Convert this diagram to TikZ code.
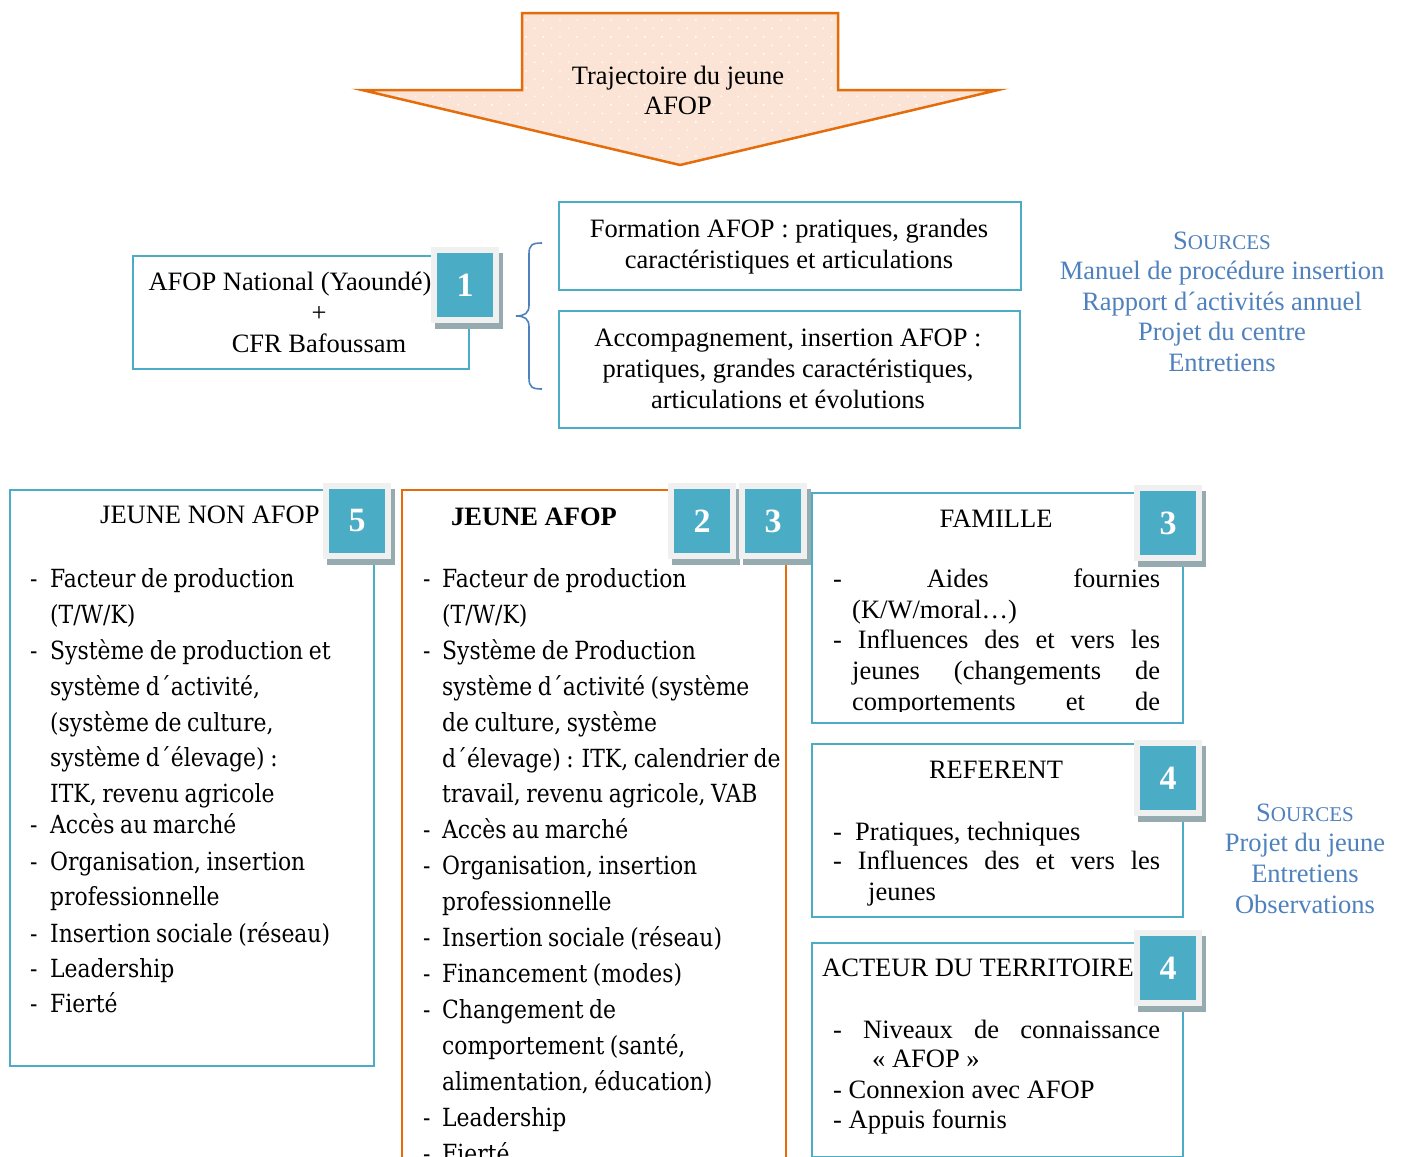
\documentclass[tikz,border=0pt]{standalone}
\usepackage{fontspec}
\setmainfont{Liberation Serif}
\newfontfamily\camfont[FakeStretch=0.875,WordSpace=0.8]{DejaVu Serif}
\usetikzlibrary{patterns.meta}
\definecolor{teal1}{HTML}{4BACC6}
\definecolor{orng}{HTML}{E46C0A}
\definecolor{peach}{HTML}{FBE4D5}
\definecolor{srcblue}{HTML}{4F81BD}
\definecolor{badgeframe}{HTML}{F0F0F0}
\definecolor{badgeshadow}{HTML}{95ABB0}
\newcounter{lnc}
\newcommand\txtL[4][]{\stepcounter{lnc}\node[txt,#1,anchor=base west] (t\thelnc) at (#2,#3) {#4};}
\newcommand\txtC[4][]{\stepcounter{lnc}\node[txt,#1,anchor=base] (t\thelnc) at (#2,#3) {#4};}
\newcommand\badge[4]{%
  \fill[badgeshadow] (#1-30,#2-32) rectangle (#1+38,#2+44);
  \fill[badgeframe] (#1-34,#2-38) rectangle (#1+34,#2+38);
  \node[badgebox] (#4) at (#1,#2) {#3};}
\newcommand\srcs{S{\fontsize{21}{31}\selectfont OURCES}}
\begin{document}
\begin{tikzpicture}[x=1pt,y=-1pt,
  txt/.style={inner sep=0pt, font=\fontsize{26.5}{31}\selectfont},
  cam/.style={font=\camfont\fontsize{25}{36}\selectfont},
  src/.style={text=srcblue},
  tbox/.style={draw=teal1, line width=2pt, anchor=north west, inner sep=0pt},
  obox/.style={draw=orng, line width=2pt, anchor=north west, inner sep=0pt},
  badgebox/.style={fill=teal1, minimum width=56pt, minimum height=64pt, inner sep=0pt,
    text=white, font=\fontsize{34}{34}\selectfont\bfseries}]
\useasboundingbox (0,0) rectangle (1401,1157);
\clip (0,0) rectangle (1401,1157);
\fill[white] (0,0) rectangle (1401,1157);

% arrow
\path[fill=peach] (522,13) -- (838,13) -- (838,90) -- (998,90) -- (680,165) -- (362,90) -- (522,90) -- cycle;
\path[pattern={Dots[distance=12pt, angle=45, radius=1pt]}, pattern color=white]
  (522,13) -- (838,13) -- (838,90) -- (998,90) -- (680,165) -- (362,90) -- (522,90) -- cycle;
\draw[orng, line width=2.5pt, line join=miter] (522,13) -- (838,13) -- (838,90) -- (998,90) -- (680,165) -- (362,90) -- (522,90) -- cycle;
\txtC{678}{84}{Trajectoire du jeune}
\txtC{678}{114}{AFOP}

% top boxes
\node[tbox, minimum width=336pt, minimum height=113pt] (nat) at (132,255) {};
\node[tbox, minimum width=462pt, minimum height=88pt] (form) at (558,201) {};
\node[tbox, minimum width=461pt, minimum height=117pt] (acc) at (558,310) {};
\txtC{290}{290}{AFOP National (Yaoundé)}
\txtC{319}{321}{+}
\txtC{319}{352}{CFR Bafoussam}
\badge{465}{285}{1}{bdg1}
\txtC{789}{237}{Formation AFOP : pratiques, grandes}
\txtC{789}{268}{caractéristiques et articulations}
\txtC{788}{346}{Accompagnement, insertion AFOP :}
\txtC{788}{377}{pratiques, grandes caractéristiques,}
\txtC{788}{408}{articulations et évolutions}
% brace
\draw[srcblue, line width=1.6pt] (542,243) .. controls (532,243) and (529,245) .. (529,254) -- (529,305)
  .. controls (529,313) and (525,316) .. (516,316) .. controls (525,316) and (529,319) .. (529,327)
  -- (529,378) .. controls (529,387) and (532,389) .. (542,389);

% sources 1
\txtC[src]{1222}{249}{\srcs}
\txtC[src]{1222}{279}{Manuel de procédure insertion}
\txtC[src]{1222}{310}{Rapport d´activités annuel}
\txtC[src]{1222}{340}{Projet du centre}
\txtC[src]{1222}{371}{Entretiens}

% lower boxes
\node[tbox, minimum width=364pt, minimum height=576pt] (non) at (9,489) {};
\node[obox, minimum width=384pt, minimum height=700pt] (afop) at (401,489) {};
\node[tbox, minimum width=371pt, minimum height=230pt] (fam) at (811,492) {};
\node[tbox, minimum width=371pt, minimum height=173pt] (ref) at (811,743) {};
\node[tbox, minimum width=371pt, minimum height=214pt] (act) at (811,942) {};

% JEUNE NON AFOP
\txtL{100}{523}{JEUNE NON AFOP}
\txtL[cam]{30}{587}{-}\txtL[cam]{50}{587}{Facteur de production}
\txtL[cam]{50}{623}{(T/W/K)}
\txtL[cam]{30}{659}{-}\txtL[cam]{50}{659}{Système de production et}
\txtL[cam]{50}{695}{système d´activité,}
\txtL[cam]{50}{731}{(système de culture,}
\txtL[cam]{50}{766}{système d´élevage) :}
\txtL[cam]{50}{802}{ITK, revenu agricole}
\txtL[cam]{30}{833}{-}\txtL[cam]{50}{833}{Accès au marché}
\txtL[cam]{30}{870}{-}\txtL[cam]{50}{870}{Organisation, insertion}
\txtL[cam]{50}{905}{professionnelle}
\txtL[cam]{30}{942}{-}\txtL[cam]{50}{942}{Insertion sociale (réseau)}
\txtL[cam]{30}{977}{-}\txtL[cam]{50}{977}{Leadership}
\txtL[cam]{30}{1012}{-}\txtL[cam]{50}{1012}{Fierté}
\badge{357}{521}{5}{bdg5}

% JEUNE AFOP
\txtL[font=\fontsize{26.5}{31}\selectfont\bfseries]{451}{525}{JEUNE AFOP}
\txtL[cam]{423}{587}{-}\txtL[cam]{442}{587}{Facteur de production}
\txtL[cam]{442}{623}{(T/W/K)}
\txtL[cam]{423}{659}{-}\txtL[cam]{442}{659}{Système de Production}
\txtL[cam]{442}{695}{système d´activité (système}
\txtL[cam]{442}{731}{de culture, système}
\txtL[cam]{442}{767}{d´élevage) : ITK, calendrier de}
\txtL[cam]{442}{802}{travail, revenu agricole, VAB}
\txtL[cam]{423}{838}{-}\txtL[cam]{442}{838}{Accès au marché}
\txtL[cam]{423}{874}{-}\txtL[cam]{442}{874}{Organisation, insertion}
\txtL[cam]{442}{910}{professionnelle}
\txtL[cam]{423}{946}{-}\txtL[cam]{442}{946}{Insertion sociale (réseau)}
\txtL[cam]{423}{982}{-}\txtL[cam]{442}{982}{Financement (modes)}
\txtL[cam]{423}{1018}{-}\txtL[cam]{442}{1018}{Changement de}
\txtL[cam]{442}{1054}{comportement (santé,}
\txtL[cam]{442}{1090}{alimentation, éducation)}
\txtL[cam]{423}{1126}{-}\txtL[cam]{442}{1126}{Leadership}
\txtL[cam]{423}{1162}{-}\txtL[cam]{442}{1162}{Fierté}
\badge{702}{521}{2}{bdg2}
\badge{773}{521}{3}{bdg3a}

% FAMILLE
\txtC{996}{527}{FAMILLE}
\begin{scope}
\clip (811,560) rectangle (1182,711);
\txtL{833}{587}{\makebox[327pt][s]{- Aides fournies}}
\txtL{852}{618}{(K/W/moral…)}
\txtL{833}{648}{\makebox[327pt][s]{- Influences des et vers les}}
\txtL{852}{679}{\makebox[308pt][s]{jeunes (changements de}}
\txtL{852}{710}{\makebox[308pt][s]{comportements et de}}
\end{scope}
\badge{1168}{523}{3}{bdg3b}

% REFERENT
\txtC{996}{778}{REFERENT}
\txtL{833}{840}{-}\txtL{855}{840}{Pratiques, techniques}
\txtL{833}{869}{\makebox[327pt][s]{- Influences des et vers les}}
\txtL{868}{900}{jeunes}
\badge{1168}{778}{4}{bdg4a}

% ACTEUR
\txtL{822}{976}{ACTEUR DU TERRITOIRE}
\txtL{833}{1038}{\makebox[327pt][s]{- Niveaux de connaissance}}
\txtL{872}{1067}{« AFOP »}
\txtL{833}{1098}{- Connexion avec AFOP}
\txtL{833}{1128}{- Appuis fournis}
\badge{1168}{968}{4}{bdg4b}

% sources 2
\txtC[src]{1305}{821}{\srcs}
\txtC[src]{1305}{851}{Projet du jeune}
\txtC[src]{1305}{882}{Entretiens}
\txtC[src]{1305}{913}{Observations}
\end{tikzpicture}
\end{document}
